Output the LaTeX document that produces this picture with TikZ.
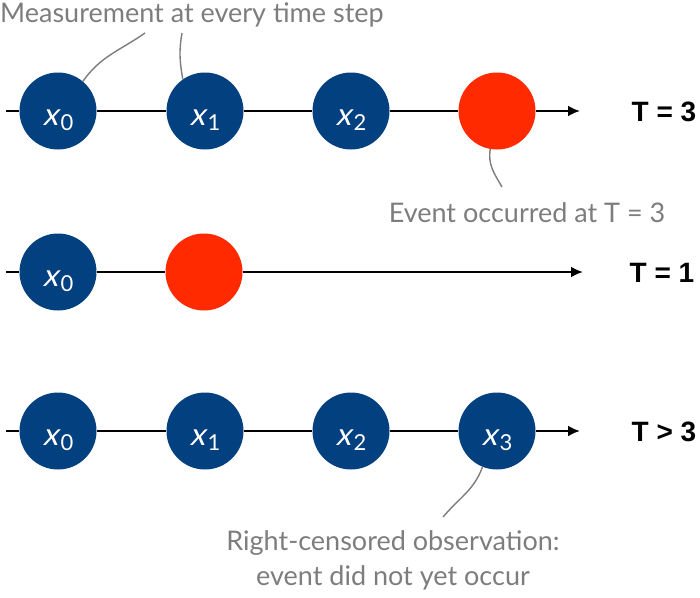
\documentclass[tikz,border=0pt]{standalone}
\usepackage{fontspec}
\setmainfont{Lato}
\newfontfamily\labelfont{Liberation Sans}
\newfontfamily\xfont[FakeSlant=0.22]{Lato}
\usepackage{xcolor}
\usetikzlibrary{arrows.meta}
\tikzset{>={Latex[width=11pt,length=12pt]}}
\definecolor{obsblue}{RGB}{2,64,128}
\definecolor{eventred}{RGB}{255,42,0}
\definecolor{notegray}{RGB}{125,125,125}
\newcommand{\xsub}[1]{{\xfont x}\kern2.5pt\raisebox{-5pt}{\fontsize{22}{22}\selectfont #1}}

\begin{document}
\begin{tikzpicture}[x=1pt, y=-1pt, obs/.style={circle, fill=obsblue, minimum size=77pt, inner sep=0pt, text=white, font=\fontsize{31}{31}\selectfont, text height=28pt, text depth=0pt}, event/.style={circle, fill=eventred, minimum size=77pt, inner sep=0pt}, timeline/.style={->, line width=2.8pt}, note/.style={text=notegray, font=\fontsize{27}{35}\selectfont, inner sep=0pt}, pointer/.style={draw=notegray, line width=1.4pt}, tlabel/.style={font=\labelfont\bfseries\fontsize{28}{28}\selectfont, inner sep=0pt}]
    \useasboundingbox (0,0) rectangle (700,597);

    %Nodes
    \node[obs](a0) at (58,111){\xsub{0}};
    \node[obs](a1) at (205,111){\xsub{1}};
    \node[obs](a2) at (351,111){\xsub{2}};
    \node[event](a3) at (497,111){};
    \node[tlabel](ta) at (664,112){T = 3};

    \node[obs](b0) at (58,272){\xsub{0}};
    \node[event](b1) at (204,272){};
    \node[tlabel](tb) at (662,273){T = 1};

    \node[obs](c0) at (58,431){\xsub{0}};
    \node[obs](c1) at (205,431){\xsub{1}};
    \node[obs](c2) at (351,431){\xsub{2}};
    \node[obs](c3) at (497,431){\xsub{3}};
    \node[tlabel](tc) at (664,432){T > 3};

    \node[note, anchor=base west](measure) at (0,22){Measurement at every time step};
    \node[note, anchor=base](occurred) at (527,222){Event occurred at T = 3};
    \node[note, align=center](censored) at (393,560){Right-censored observation:\\event did not yet occur};

    \coordinate (sa) at (6,111);
    \coordinate (ea) at (580,111);
    \coordinate (sb) at (6,272);
    \coordinate (eb) at (583,272);
    \coordinate (sc) at (6,431);
    \coordinate (ec) at (580,431);
    \coordinate (m0) at (145,33);
    \coordinate (m1) at (182,33);
    \coordinate (oc) at (502,187);
    \coordinate (ce) at (443,517);

    %Lines
    \draw[timeline] (sa) -- (a0) -- (a1) -- (a2) -- (a3) -- (ea);
    \draw[timeline] (sb) -- (b0) -- (b1) -- (eb);
    \draw[timeline] (sc) -- (c0) -- (c1) -- (c2) -- (c3) -- (ec);

    \draw[pointer] (a0.50) to[out=55, in=-145] (m0);
    \draw[pointer] (a1.125) to[out=100, in=-100] (m1);
    \draw[pointer] (a3.260) to[out=-100, in=120] (oc);
    \draw[pointer] (c3.248) to[out=-110, in=50] (ce);

\end{tikzpicture}
\end{document}
